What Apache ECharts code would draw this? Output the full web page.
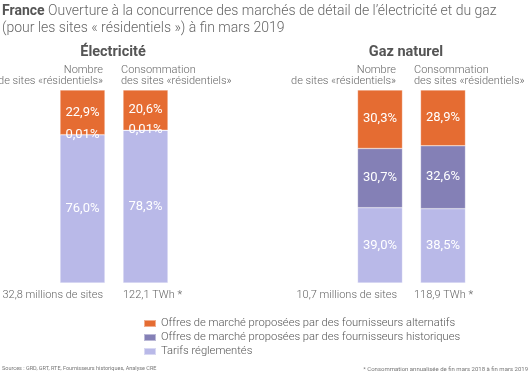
<!DOCTYPE html>
<html>
<head>
<meta charset="utf-8">
<script src="https://cdn.jsdelivr.net/npm/echarts@6/dist/echarts.min.js"></script>
<style>
	html, body { margin: 0; padding: 0; background: #fff; }
	#chart { width: 530px; height: 376px; }
</style>
</head>
<body>
<div id="chart"></div>
<script>
// categories (bars) per energy
const barsElec = ['Nombre de sites', 'Consommation']
const barsGaz = ['Nombre de sites', 'Consommation']

// series names (legend order)
const seriesNames = [
	'Offres de marché proposées par des fournisseurs alternatifs',
	'Offres de marché proposées par des fournisseurs historiques',
	'Tarifs réglementés'
]

// values in % : [nombre de sites, consommation]
const elecAlternatifs = [22.9, 20.6]
const elecHistoriques = [0.01, 0.01]
const elecTarifs = [76.0, 78.3]
const gazAlternatifs = [30.3, 28.9]
const gazHistoriques = [30.7, 32.6]
const gazTarifs = [39.0, 38.5]

// totals under the bars
const elecTotals = ['32,8 millions de sites', '122,1 TWh *']
const gazTotals = ['10,7 millions de sites', '118,9 TWh *']

const colors = ['#e56c32', '#8480b6', '#b9b9e8']
const FONT = 'Roboto, "Noto Sans", sans-serif'

// 0,01 -> two decimals, otherwise one
function fmt(v) {
	let s = v < 0.1 ? v.toFixed(2) : v.toFixed(1)
	return s.replace('.', ',') + '%'
}

function stackMax(a, b, c) {
	let m = 0
	for (let i = 0; i < a.length; i++) {
		m = Math.max(m, a[i] + b[i] + c[i])
	}
	return m
}

function makeSeries(name, data, idx, color) {
	return {
		name: name,
		type: 'bar',
		stack: 'total' + idx,
		xAxisIndex: idx,
		yAxisIndex: idx,
		barWidth: 45,
		data: data,
		itemStyle: { color: color, borderColor: 'rgba(255,255,255,0.45)', borderWidth: 0.6 },
		label: {
			show: true,
			position: 'inside',
			color: '#fff',
			fontFamily: FONT,
			fontSize: 13,
			formatter: p => fmt(p.value)
		}
	}
}

const chart = echarts.init(document.getElementById('chart'), null, { renderer: 'canvas' })

const headStyle = { fill: '#666', font: '300 11px ' + FONT }

chart.setOption({
	animation: false,
	textStyle: { fontFamily: FONT },
	grid: [
		{ left: 51, width: 126, top: 90, bottom: 93 },
		{ left: 348.5, width: 126, top: 90, bottom: 93 }
	],
	xAxis: [
		{ type: 'category', gridIndex: 0, data: barsElec, show: false },
		{ type: 'category', gridIndex: 1, data: barsGaz, show: false }
	],
	yAxis: [
		{ type: 'value', gridIndex: 0, min: 0, max: stackMax(elecAlternatifs, elecHistoriques, elecTarifs), show: false },
		{ type: 'value', gridIndex: 1, min: 0, max: stackMax(gazAlternatifs, gazHistoriques, gazTarifs), show: false }
	],
	legend: {
		orient: 'vertical',
		left: 143,
		top: 318,
		padding: 0,
		itemWidth: 12,
		itemHeight: 7,
		itemGap: 3,
		icon: 'rect',
		data: seriesNames,
		textStyle: { color: '#555', fontSize: 11.2, fontFamily: FONT, fontWeight: 300 }
	},
	series: [
		makeSeries(seriesNames[2], elecTarifs, 0, colors[2]),
		makeSeries(seriesNames[1], elecHistoriques, 0, colors[1]),
		makeSeries(seriesNames[0], elecAlternatifs, 0, colors[0]),
		makeSeries(seriesNames[2], gazTarifs, 1, colors[2]),
		makeSeries(seriesNames[1], gazHistoriques, 1, colors[1]),
		makeSeries(seriesNames[0], gazAlternatifs, 1, colors[0])
	],
	graphic: [
		// titre
		{
			type: 'text', left: 2, top: 3,
			style: {
				text: '{b|France} Ouverture à la concurrence des marchés de détail de l’électricité et du gaz\n(pour les sites « résidentiels ») à fin mars 2019',
				fill: '#666', font: '300 14px ' + FONT, lineHeight: 17,
				rich: { b: { fontWeight: 'bold', fill: '#555', fontSize: 14, fontFamily: FONT } }
			}
		},
		{ type: 'text', x: 113, y: 45, style: { text: 'Électricité', fill: '#555', font: 'bold 14.5px ' + FONT, textAlign: 'center' } },
		{ type: 'text', x: 406, y: 45, style: { text: 'Gaz naturel', fill: '#555', font: 'bold 14.5px ' + FONT, textAlign: 'center' } },
		// en-têtes
		{ type: 'text', x: 103, y: 65, style: Object.assign({ text: 'Nombre\nde sites «résidentiels»', textAlign: 'right', lineHeight: 11 }, headStyle) },
		{ type: 'text', x: 121, y: 65, style: Object.assign({ text: 'Consommation\ndes sites «résidentiels»', textAlign: 'left', lineHeight: 11 }, headStyle) },
		{ type: 'text', x: 396, y: 65, style: Object.assign({ text: 'Nombre\nde sites «résidentiels»', textAlign: 'right', lineHeight: 11 }, headStyle) },
		{ type: 'text', x: 414, y: 65, style: Object.assign({ text: 'Consommation\ndes sites «résidentiels»', textAlign: 'left', lineHeight: 11 }, headStyle) },
		// totaux
		{ type: 'text', x: 103, y: 290, style: Object.assign({ text: elecTotals[0], textAlign: 'right' }, headStyle) },
		{ type: 'text', x: 123, y: 290, style: Object.assign({ text: elecTotals[1], textAlign: 'left' }, headStyle) },
		{ type: 'text', x: 397, y: 290, style: Object.assign({ text: gazTotals[0], textAlign: 'right' }, headStyle) },
		{ type: 'text', x: 414, y: 290, style: Object.assign({ text: gazTotals[1], textAlign: 'left' }, headStyle) },
		// sources
		{ type: 'text', x: 2, y: 366, style: { text: 'Sources : GRD, GRT, RTE, Fournisseurs historiques, Analyse CRE', fill: '#777', font: '5.5px ' + FONT } },
		{ type: 'text', x: 528, y: 366, style: { text: '* Consommation annualisée de fin mars 2018 à fin mars 2019', fill: '#777', font: '6px ' + FONT, textAlign: 'right' } }
	]
})
</script>
</body>
</html>
